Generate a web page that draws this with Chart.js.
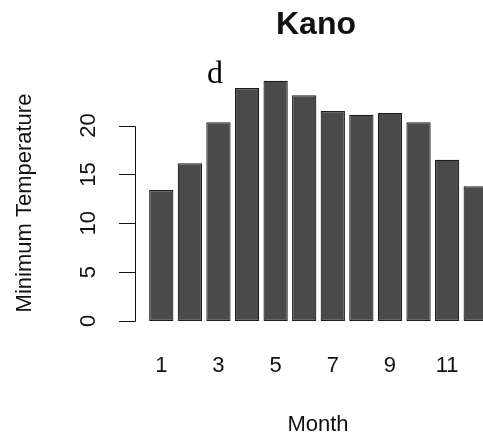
<!DOCTYPE html>
<html>
<head>
<meta charset="utf-8">
<script src="https://cdn.jsdelivr.net/npm/chart.js@4"></script>
<style>
  html, body { margin: 0; padding: 0; background: #fff; overflow: hidden; }
  #wrap { position: relative; width: 500px; height: 441px; }
</style>
</head>
<body>
<div id="wrap"><canvas id="c" width="500" height="441"></canvas></div>
<script>
// Monthly mean minimum temperature, Kano
const months = [1, 2, 3, 4, 5, 6, 7, 8, 9, 10, 11, 12];
const minTemp = [13.4, 16.15, 20.35, 23.85, 24.6, 23.1, 21.5, 21.1, 21.3, 20.35, 16.5, 13.8];
const yTicks = [0, 5, 10, 15, 20];
const xTickLabels = ['1', '3', '5', '7', '9', '11'];
const titleText = 'Kano';
const panelTag = 'd';
const xTitle = 'Month';
const yTitle = 'Minimum Temperature';

const SANS = '"Liberation Sans", Arial, sans-serif';
const SERIF = '"Liberation Serif", "Times New Roman", serif';

// Base-graphics style axes, labels and title drawn on top of the bars
const decorations = {
  id: 'decorations',
  afterDraw(chart) {
    const ctx = chart.ctx;
    const x = chart.scales.x, y = chart.scales.y;
    const ink = '#111';
    ctx.save();

    // y axis line and outward ticks
    const axisX = 135;
    ctx.strokeStyle = ink;
    ctx.lineWidth = 1;
    ctx.beginPath();
    ctx.moveTo(axisX + 0.5, Math.round(y.getPixelForValue(yTicks[yTicks.length - 1])) + 0.5);
    ctx.lineTo(axisX + 0.5, Math.round(y.getPixelForValue(yTicks[0])) + 0.5);
    yTicks.forEach(v => {
      const py = Math.round(y.getPixelForValue(v)) + 0.5;
      ctx.moveTo(axisX - 16, py);
      ctx.lineTo(axisX + 0.5, py);
    });
    ctx.stroke();

    // rotated y tick labels
    ctx.fillStyle = ink;
    ctx.font = '22px ' + SANS;
    ctx.textAlign = 'center';
    ctx.textBaseline = 'middle';
    yTicks.forEach(v => {
      ctx.save();
      ctx.translate(89, y.getPixelForValue(v));
      ctx.rotate(-Math.PI / 2);
      ctx.fillText(String(v), 0, 0);
      ctx.restore();
    });

    // x tick labels (every other month)
    xTickLabels.forEach(lbl => {
      const i = months.indexOf(Number(lbl));
      ctx.fillText(lbl, x.getPixelForValue(i), 366);
    });

    // axis titles
    ctx.fillText(xTitle, 318, 425);
    ctx.save();
    ctx.translate(25, 203);
    ctx.rotate(-Math.PI / 2);
    ctx.fillText(yTitle, 0, 0);
    ctx.restore();

    // main title
    ctx.font = 'bold 32px ' + SANS;
    ctx.fillText(titleText, 316, 25);

    // panel tag
    ctx.font = '32px ' + SERIF;
    ctx.textAlign = 'left';
    ctx.textBaseline = 'alphabetic';
    ctx.fillStyle = '#000';
    ctx.fillText(panelTag, 207, 83);

    ctx.restore();
  }
};

new Chart(document.getElementById('c'), {
  type: 'bar',
  data: {
    labels: months.map(String),
    datasets: [{
      data: minTemp,
      backgroundColor: '#4a4a4a',
      borderColor: '#1c1c1c',
      borderWidth: 1.2,
      borderSkipped: false,
      categoryPercentage: 1.0,
      barPercentage: 0.85
    }]
  },
  options: {
    responsive: false,
    animation: false,
    events: [],
    layout: { padding: { left: 147, right: 10, top: 67, bottom: 120 } },
    plugins: { legend: { display: false }, tooltip: { enabled: false }, title: { display: false } },
    scales: {
      x: { display: false, offset: true },
      y: { display: false, min: 0, max: 26 }
    }
  },
  plugins: [decorations]
});
</script>
</body>
</html>
